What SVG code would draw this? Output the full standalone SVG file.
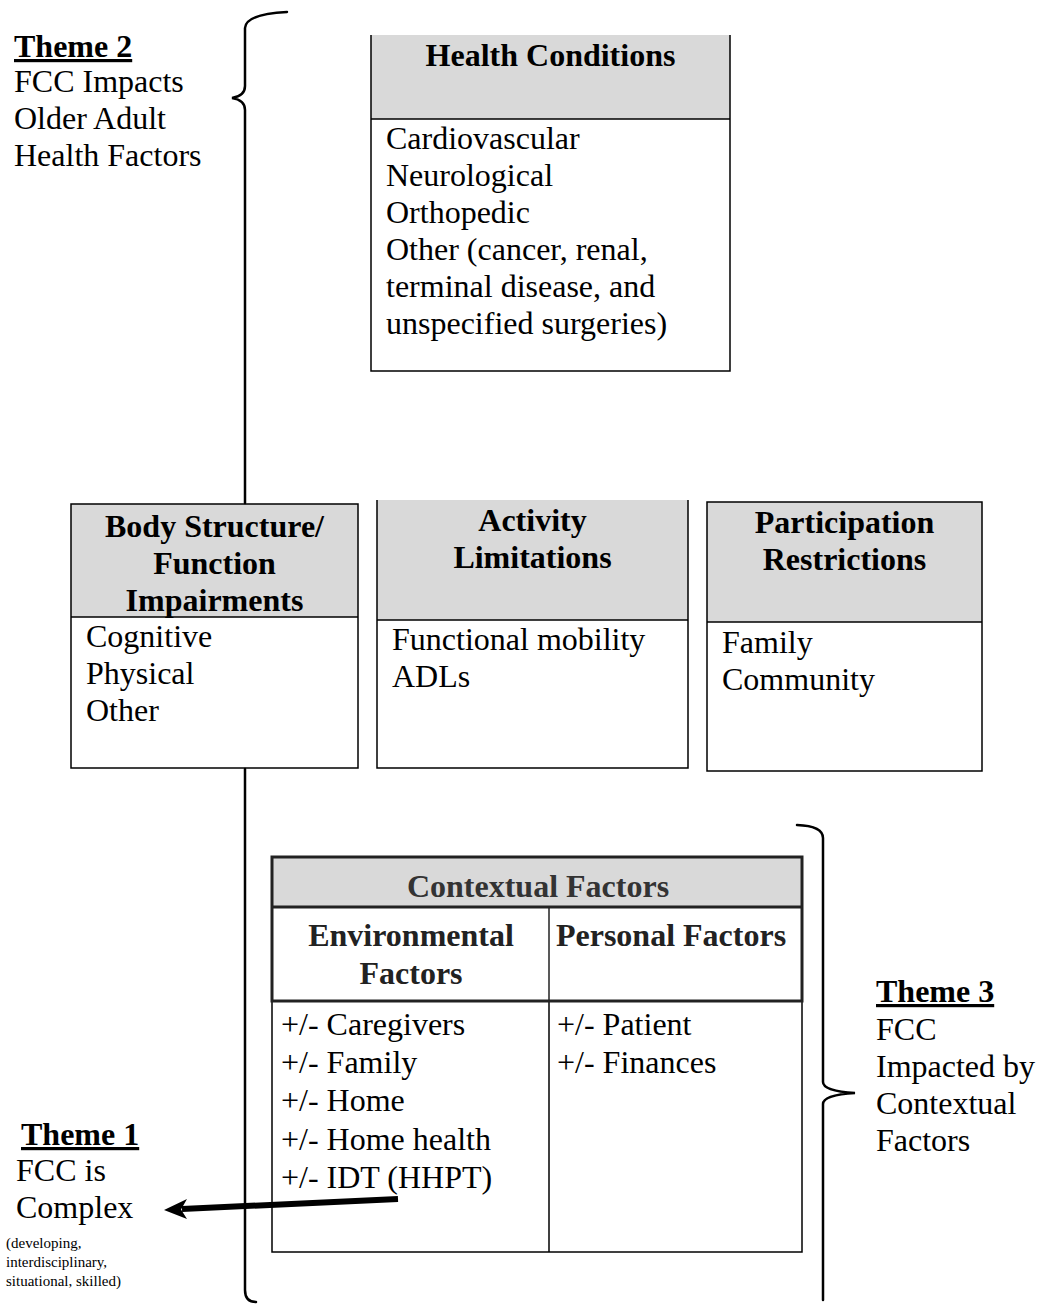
<svg xmlns="http://www.w3.org/2000/svg" width="1037" height="1304" viewBox="0 0 1037 1304">
<style>
text{font-family:"Liberation Serif","Times New Roman",serif;fill:#000}
.t{font-size:32px}
.b{font-size:32px;font-weight:bold}
.hc{text-anchor:middle}
.s{font-size:15px}
.hdr{fill:#d9d9d9;stroke:none}
.box{fill:none;stroke:#000;stroke-width:1.5}
.brace{fill:none;stroke:#000;stroke-width:2.5;stroke-linecap:round}
.u{text-decoration:underline}
</style>
<rect width="1037" height="1304" fill="#fff"/>

<g id="theme2">
<text class="b u" x="14" y="57">Theme 2</text>
<text class="t" x="14" y="92">FCC Impacts</text>
<text class="t" x="14" y="129">Older Adult</text>
<text class="t" x="14" y="166">Health Factors</text>
</g>

<g id="health-conditions">
<rect class="hdr" x="371" y="35" width="359" height="84"/>
<rect fill="#fff" x="371" y="119" width="359" height="252"/>
<path class="box" d="M371,35 L371,371 L730,371 L730,35 M371,119 L730,119"/>
<text class="b hc" x="550.5" y="66">Health Conditions</text>
<text class="t" x="386" y="149">Cardiovascular</text>
<text class="t" x="386" y="186">Neurological</text>
<text class="t" x="386" y="223">Orthopedic</text>
<text class="t" x="386" y="260">Other (cancer, renal,</text>
<text class="t" x="386" y="297">terminal disease, and</text>
<text class="t" x="386" y="334">unspecified surgeries)</text>
</g>

<g id="body-structure">
<rect class="hdr" x="71" y="504" width="287" height="113"/>
<rect fill="#fff" x="71" y="617" width="287" height="151"/>
<rect class="box" x="71" y="504" width="287" height="264"/>
<line class="box" x1="71" y1="617" x2="358" y2="617"/>
<text class="b hc" x="214.5" y="537">Body Structure/</text>
<text class="b hc" x="214.5" y="574">Function</text>
<text class="b hc" x="214.5" y="611">Impairments</text>
<text class="t" x="86" y="647">Cognitive</text>
<text class="t" x="86" y="684">Physical</text>
<text class="t" x="86" y="721">Other</text>
</g>

<g id="activity-limitations">
<rect class="hdr" x="377" y="500" width="311" height="120"/>
<rect fill="#fff" x="377" y="620" width="311" height="148"/>
<path class="box" d="M377,500 L377,768 L688,768 L688,500 M377,620 L688,620"/>
<text class="b hc" x="532.5" y="531">Activity</text>
<text class="b hc" x="532.5" y="568">Limitations</text>
<text class="t" x="392" y="650">Functional mobility</text>
<text class="t" x="392" y="687">ADLs</text>
</g>

<g id="participation-restrictions">
<rect class="hdr" x="707" y="502" width="275" height="120"/>
<rect fill="#fff" x="707" y="622" width="275" height="149"/>
<rect class="box" x="707" y="502" width="275" height="269"/>
<line class="box" x1="707" y1="622" x2="982" y2="622"/>
<text class="b hc" x="844.5" y="533">Participation</text>
<text class="b hc" x="844.5" y="570">Restrictions</text>
<text class="t" x="722" y="653">Family</text>
<text class="t" x="722" y="690">Community</text>
</g>

<g id="contextual-factors">
<rect fill="#fff" x="272" y="857" width="530" height="395"/>
<rect class="hdr" x="272" y="857" width="530" height="50"/>
<rect class="box" x="272" y="1001" width="530" height="251"/>
<line class="box" x1="549" y1="1001" x2="549" y2="1252"/>
<rect x="272" y="857" width="530" height="144" fill="none" stroke="#222" stroke-width="3"/>
<line x1="272" y1="907" x2="802" y2="907" stroke="#222" stroke-width="3"/>
<line x1="549" y1="907" x2="549" y2="1001" stroke="#222" stroke-width="1.5"/>
<text class="b hc" x="538" y="897" style="fill:#333">Contextual Factors</text>
<text class="b hc" x="411" y="946" style="fill:#222">Environmental</text>
<text class="b hc" x="411" y="984" style="fill:#222">Factors</text>
<text class="b hc" x="671" y="946" style="fill:#222">Personal Factors</text>
<text class="t" x="281" y="1035">+/- Caregivers</text>
<text class="t" x="281" y="1073">+/- Family</text>
<text class="t" x="281" y="1111">+/- Home</text>
<text class="t" x="281" y="1150">+/- Home health</text>
<text class="t" x="281" y="1188">+/- IDT (HHPT)</text>
<text class="t" x="557" y="1035">+/- Patient</text>
<text class="t" x="557" y="1073">+/- Finances</text>
</g>

<g id="theme1">
<text class="b u" x="21" y="1145">Theme 1</text>
<text class="t" x="16" y="1181">FCC is</text>
<text class="t" x="16" y="1218">Complex</text>
<text class="s" x="6" y="1248">(developing,</text>
<text class="s" x="6" y="1267">interdisciplinary,</text>
<text class="s" x="6" y="1286">situational, skilled)</text>
</g>

<g id="theme3">
<text class="b u" x="876" y="1002">Theme 3</text>
<text class="t" x="876" y="1040">FCC</text>
<text class="t" x="876" y="1077">Impacted by</text>
<text class="t" x="876" y="1114">Contextual</text>
<text class="t" x="876" y="1151">Factors</text>
</g>

<g id="connectors">
<path class="brace" d="M287,12 Q246,14 245,28 L245,86 Q245,96 232,98 Q245,100 245,110 L245,503"/>
<path class="brace" d="M245,769 L245,1290 Q245,1302 256,1302"/>
<path class="brace" d="M797,825 Q823,826 823,838 L823,1082 Q823,1091 855,1093 Q823,1095 823,1104 L823,1300"/>
<path d="M398,1199 L182,1209" stroke="#000" stroke-width="6" fill="none"/>
<path d="M164,1210 L187,1199 L181,1209.5 L187,1219 Z" fill="#000"/>
</g>
</svg>
